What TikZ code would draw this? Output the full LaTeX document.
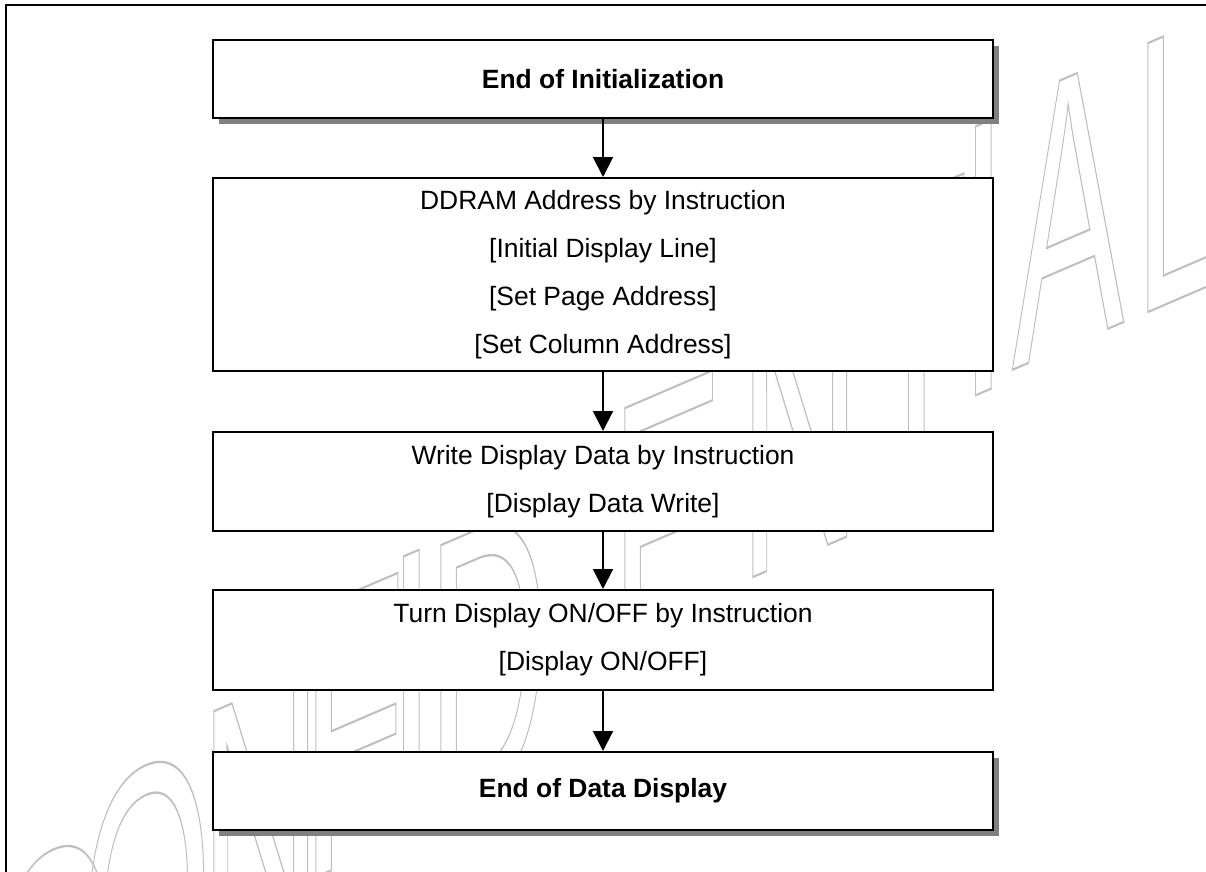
\documentclass[tikz,border=0pt]{standalone}
\usepackage{fontspec}
\setmainfont{Liberation Sans}
\newfontfamily\wmfont{Liberation Sans}
\usetikzlibrary{arrows.meta,shadows}

\begin{document}
\begin{tikzpicture}[
  procbox/.style={draw, line width=1.4pt, fill=white, minimum width=19.5cm,
    align=center, inner sep=0pt, font=\fontsize{18.8}{34.1}\selectfont},
  endbox/.style={procbox, font=\fontsize{18.8}{34.1}\selectfont\bfseries,
    drop shadow={shadow xshift=0.15cm, shadow yshift=-0.15cm, fill=black!50, opacity=1}},
  flow/.style={-{Triangle[length=0.5cm,width=0.5cm]}, line width=1.4pt},
  wmletter/.style={text=black!25, inner sep=0pt, outer sep=0pt, anchor=base west,
    font=\wmfont\fontsize{278}{278}\selectfont}
]
\useasboundingbox (0,0) rectangle (30.15,21.8);

% watermark behind the chart
\foreach \ch/\x/\y [count=\i] in {C/-0.275/-6.95, O/2.025/-4.85, N/5.0/-2.85,
    F/7.55/-0.275, I/9.7/1.0, D/10.675/1.3, E/15.275/4.725, N/18.475/7.225,
    T/21.625/9.68, I/24.0/11.75, A/25.3/12.55, L/28.35/13.85}
{
  \begin{scope}[shift={(\x,\y)}, yslant=0.43, xscale=0.43]
    \node[wmletter, transform shape] (wm\i) at (0,0)
      {\special{pdf:literal direct 1 Tr 1.6 w}\ch\special{pdf:literal direct 0 Tr}};
  \end{scope}
}

% frame
\draw[line width=1.6pt] (0.15,-1) rectangle (31,21.675);

\node[endbox, minimum height=1.95cm] (init) at (15.075,19.825) {End of Initialization};
\node[procbox, minimum height=4.825cm] (ddram) at (15.075,14.9375)
  {DDRAM Address by Instruction\\{[Initial Display Line]}\\{[Set Page Address]}\\{[Set Column Address]}};
\node[procbox, minimum height=2.475cm] (write) at (15.075,9.7625)
  {Write Display Data by Instruction\\{[Display Data Write]}};
\node[procbox, minimum height=2.5cm] (onoff) at (15.075,5.8)
  {Turn Display ON/OFF by Instruction\\{[Display ON/OFF]}};
\node[endbox, minimum height=1.95cm] (done) at (15.075,2.025) {End of Data Display};

\draw[flow] (init) -- (ddram);
\draw[flow] (ddram) -- (write);
\draw[flow] (write) -- (onoff);
\draw[flow] (onoff) -- (done);
\end{tikzpicture}
\end{document}
